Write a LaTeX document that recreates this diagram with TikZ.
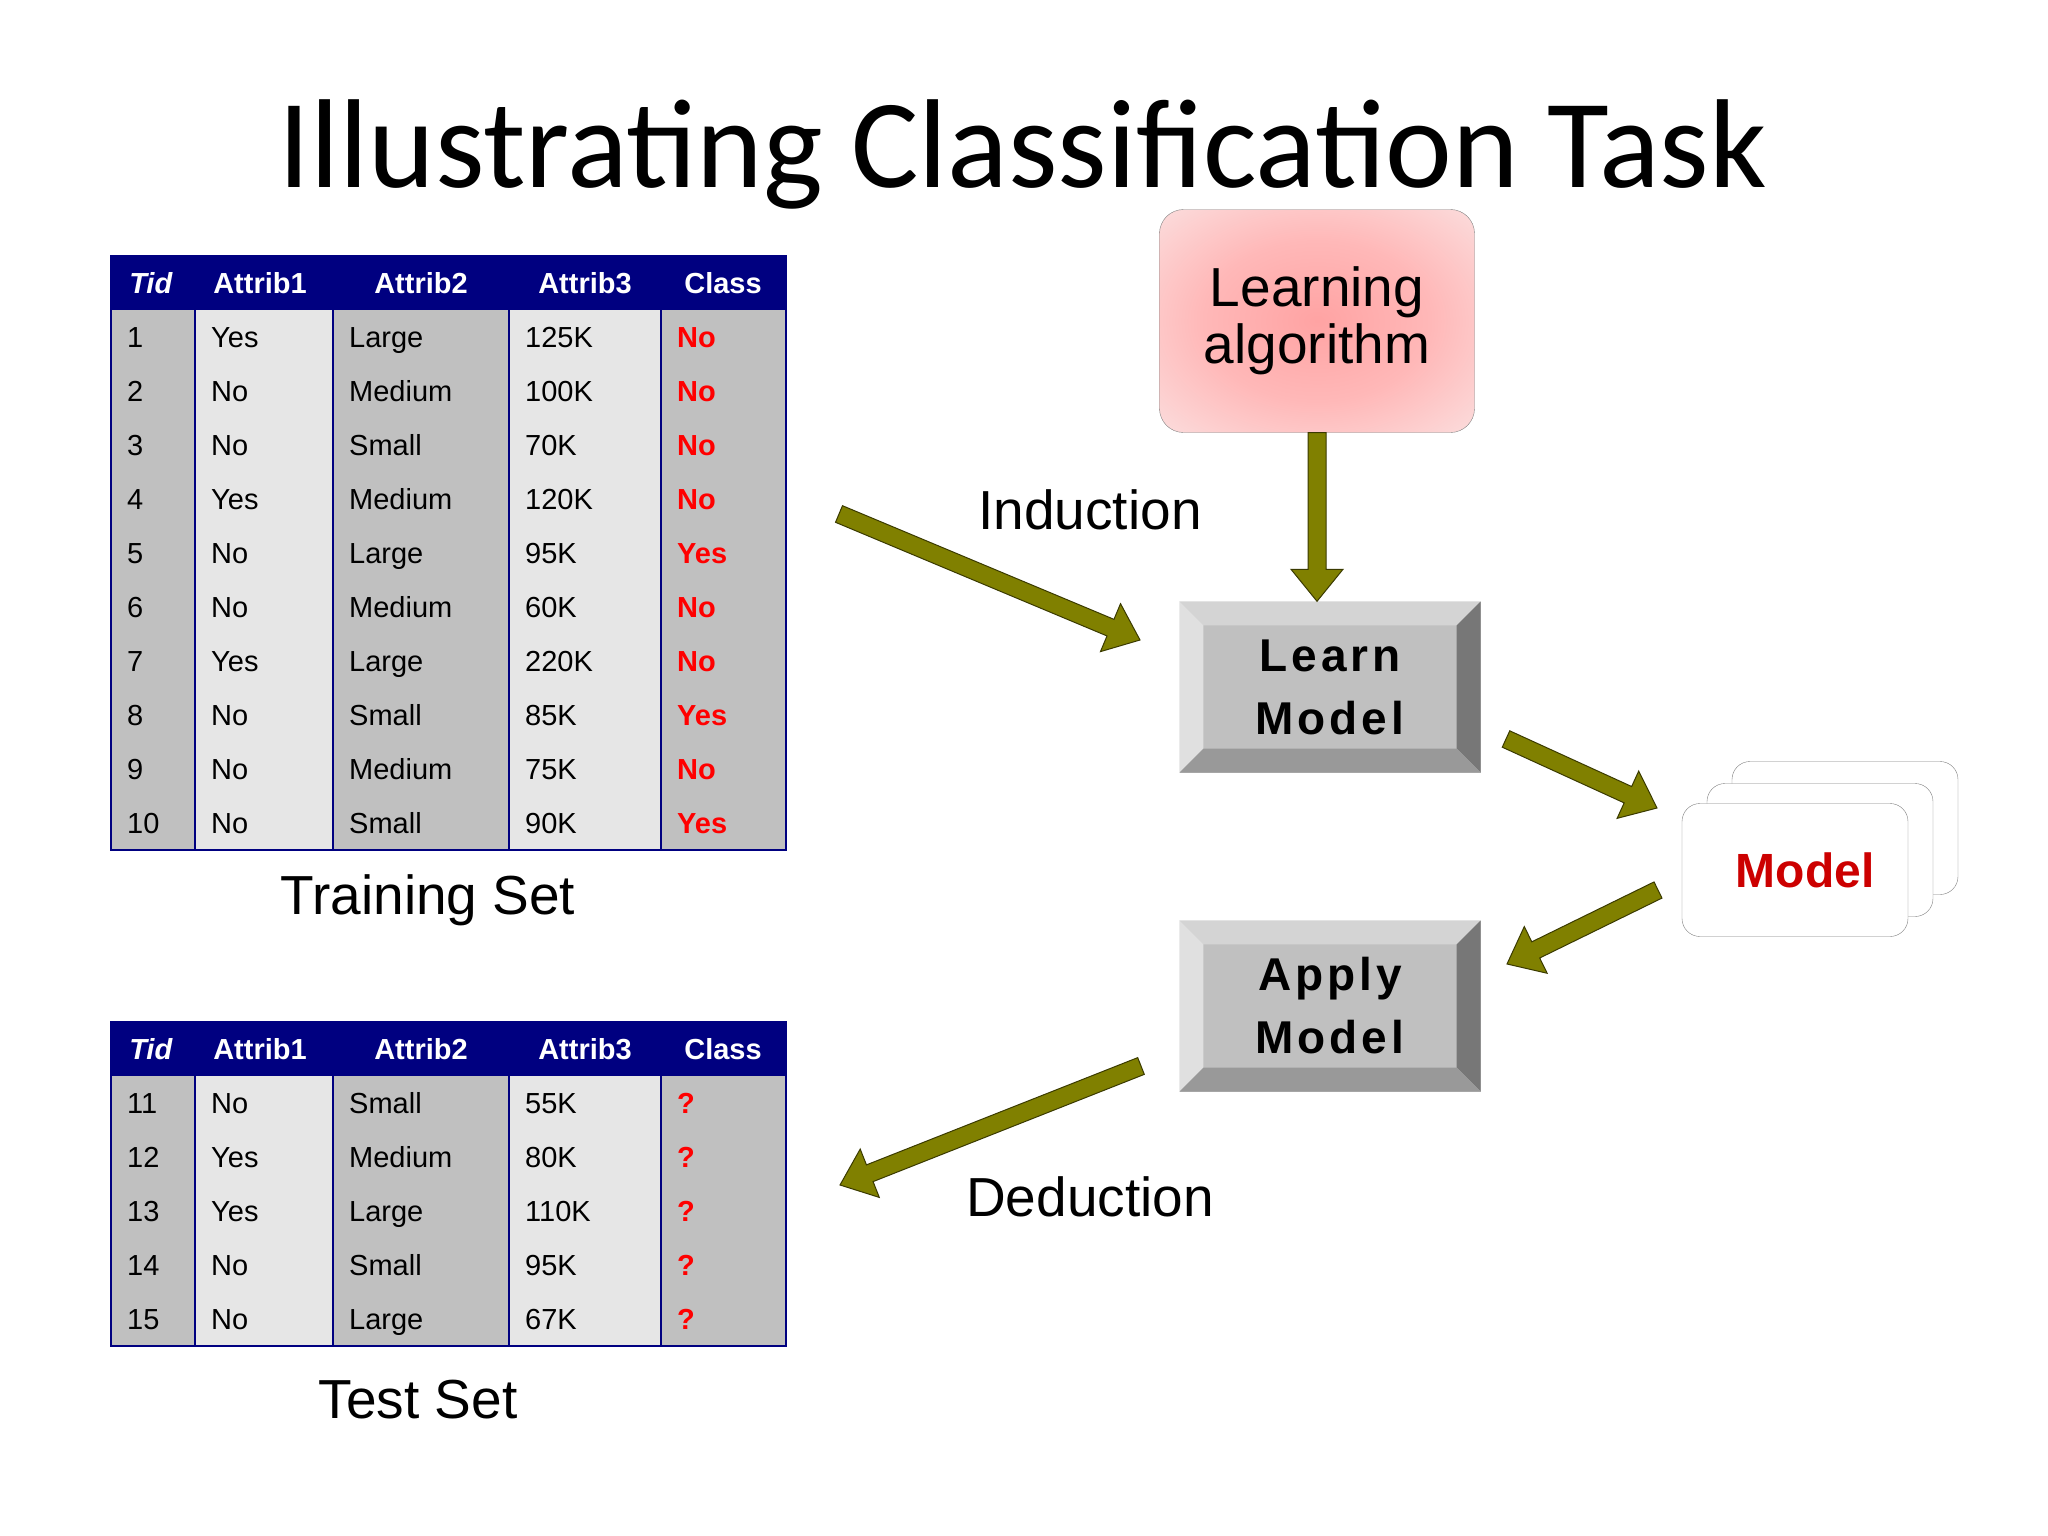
\documentclass[tikz,border=0pt]{standalone}
\usepackage{fontspec}
\setmainfont{Liberation Sans}
\newfontfamily\titlefont{Carlito}
\newfontfamily\keyfont[LetterSpace=8.5]{Liberation Sans}
\usetikzlibrary{calc}

\definecolor{tabnavy}{HTML}{000080}
\definecolor{coldark}{HTML}{C0C0C0}
\definecolor{collight}{HTML}{E6E6E6}
\definecolor{classred}{HTML}{FF0000}
\definecolor{modelred}{HTML}{CC0000}
\definecolor{olivefill}{HTML}{808000}
\definecolor{olivedraw}{HTML}{3A3A00}
\definecolor{pinkin}{HTML}{FFA3A3}
\definecolor{pinkmid}{HTML}{FFB8B8}
\definecolor{pinkout}{HTML}{FAEAEA}
\definecolor{keyface}{HTML}{C0C0C0}
\definecolor{keytop}{HTML}{D4D4D4}
\definecolor{keyleft}{HTML}{E0E0E0}
\definecolor{keyright}{HTML}{777777}
\definecolor{keybottom}{HTML}{999999}

\pgfdeclareradialshading{algoshade}{\pgfpoint{0bp}{0bp}}{color(0bp)=(pinkin); color(18bp)=(pinkmid); color(42bp)=(pinkout); color(72bp)=(pinkout)}

\tikzstyle{cell}=[inner sep=0pt, anchor=base west, font=\fontsize{29}{29}\selectfont]
\tikzstyle{classcell}=[cell, text=classred, font=\bfseries\fontsize{29}{29}\selectfont]
\tikzstyle{head}=[inner sep=0pt, anchor=base, text=white, font=\bfseries\fontsize{29}{29}\selectfont]
\tikzstyle{tabline}=[draw=tabnavy, line width=2.5]
\tikzstyle{caption}=[inner sep=0pt, anchor=base, font=\fontsize{55}{55}\selectfont]
\tikzstyle{algobox}=[draw=gray, rounded corners=24, shading=algoshade, minimum width=315, minimum height=223, align=center, font=\fontsize{55}{59}\selectfont]
\tikzstyle{keybox}=[fill=keyface, minimum width=301, minimum height=171, inner sep=0pt, align=center, font=\keyfont\bfseries\fontsize{46}{63}\selectfont]
\tikzstyle{card}=[draw=gray, fill=white, rounded corners=18, minimum width=226, minimum height=133]
\tikzstyle{olivearrow}=[fill=olivefill, draw=olivedraw, line width=1, line join=miter]

% block arrow from #1 to #2
\newcommand{\blockarrow}[2]{%
	\coordinate (neck) at ($(#2)!32pt!(#1)$);
	\draw[olivearrow] ($(#1)!9pt!90:(#2)$) -- ($(neck)!9pt!90:(#2)$) -- ($(neck)!26pt!90:(#2)$) -- (#2)
	-- ($(neck)!26pt!-90:(#2)$) -- ($(neck)!9pt!-90:(#2)$) -- ($(#1)!9pt!-90:(#2)$) -- cycle;}

\begin{document}
\begin{tikzpicture}[x=1pt, y=-1pt]
	\useasboundingbox (0,0) rectangle (2048,1536);
	%title
	\node[font=\titlefont\fontsize{126.5}{126.5}\selectfont, anchor=base] (title) at (1023,187) {Illustrating Classification Task};
	%table frames
	\foreach \tab/\dy/\n in {train/0/10, test/766/5}{
		\foreach \l/\r/\c in {111/195/coldark, 195/333/collight, 333/509/coldark, 509/661/collight, 661/786/coldark}
		\fill[\c] ({\l},{310+\dy}) rectangle ({\r},{310+\dy+54*\n});
		\fill[tabnavy] ({111},{256+\dy}) rectangle ({786},{310+\dy});
		\foreach \x in {195,333,509,661}
		\draw[tabline] ({\x},{310+\dy}) -- ({\x},{310+\dy+54*\n});
		\draw[tabline] ({111},{256+\dy}) rectangle ({786},{310+\dy+54*\n});
		\foreach \x/\h [count=\i] in {151/\textit{Tid}, 260/Attrib1, 421/Attrib2, 585/Attrib3, 723/Class}
		\node[head] (\tab-h\i) at ({\x},{293+\dy}) {\h};
	}
	%training rows
	\foreach \tid/\a/\b/\c/\cl [count=\r] in {
		1/Yes/Large/125K/No,
		2/No/Medium/100K/No,
		3/No/Small/70K/No,
		4/Yes/Medium/120K/No,
		5/No/Large/95K/Yes,
		6/No/Medium/60K/No,
		7/Yes/Large/220K/No,
		8/No/Small/85K/Yes,
		9/No/Medium/75K/No,
		10/No/Small/90K/Yes
	}{
		\node[cell] (train-\r-1) at ({127},{293+54*\r}) {\tid};
		\node[cell] (train-\r-2) at ({211},{293+54*\r}) {\a};
		\node[cell] (train-\r-3) at ({349},{293+54*\r}) {\b};
		\node[cell] (train-\r-4) at ({525},{293+54*\r}) {\c};
		\node[classcell] (train-\r-5) at ({677},{293+54*\r}) {\cl};
	}
	%test rows
	\foreach \tid/\a/\b/\c [count=\r] in {
		11/No/Small/55K,
		12/Yes/Medium/80K,
		13/Yes/Large/110K,
		14/No/Small/95K,
		15/No/Large/67K
	}{
		\node[cell] (test-\r-1) at ({127},{1059+54*\r}) {\tid};
		\node[cell] (test-\r-2) at ({211},{1059+54*\r}) {\a};
		\node[cell] (test-\r-3) at ({349},{1059+54*\r}) {\b};
		\node[cell] (test-\r-4) at ({525},{1059+54*\r}) {\c};
		\node[classcell] (test-\r-5) at ({677},{1059+54*\r}) {?};
	}
	%labels
	\node[caption] (trainlbl) at (428,914) {Training Set};
	\node[caption] (testlbl) at (418,1418) {Test Set};
	\node[caption] (induction) at (1090,529) {Induction};
	\node[caption] (deduction) at (1090,1216) {Deduction};
	%learning algorithm
	\node[algobox] (algo) at (1317,321) {Learning\\[-2pt]algorithm};
	%keys
	\node[keybox] (learn) at (1330,687) {Learn\\Model};
	\node[keybox] (apply) at (1330,1006) {Apply\\Model};
	\foreach \k in {learn,apply}{
		\fill[keytop] (\k.north west) -- (\k.north east) -- ([shift={(-24,24)}]\k.north east) -- ([shift={(24,24)}]\k.north west) -- cycle;
		\fill[keyleft] (\k.north west) -- ([shift={(24,24)}]\k.north west) -- ([shift={(24,-24)}]\k.south west) -- (\k.south west) -- cycle;
		\fill[keyright] (\k.north east) -- ([shift={(-24,24)}]\k.north east) -- ([shift={(-24,-24)}]\k.south east) -- (\k.south east) -- cycle;
		\fill[keybottom] (\k.south west) -- ([shift={(24,-24)}]\k.south west) -- ([shift={(-24,-24)}]\k.south east) -- (\k.south east) -- cycle;
	}
	%model cards
	\node[card] (card3) at (1845,828) {};
	\node[card] (card2) at (1820,850) {};
	\node[card, text=modelred, font=\bfseries\fontsize{48}{48}\selectfont] (model) at (1795,870) {\hspace*{20pt}Model};
	%arrows
	\coordinate (algo-tip) at (algo.south |- learn.north);
	\coordinate (ind-a) at (839,514);
	\coordinate (ind-b) at (1140,640);
	\coordinate (lm-a) at (1506,739);
	\coordinate (lm-b) at (1657,808);
	\coordinate (ma-a) at (1658,890);
	\coordinate (ma-b) at (1507,964);
	\coordinate (ded-a) at (1141,1066);
	\coordinate (ded-b) at (840,1185);
	\blockarrow{algo.south}{algo-tip}
	\blockarrow{ind-a}{ind-b}
	\blockarrow{lm-a}{lm-b}
	\blockarrow{ma-a}{ma-b}
	\blockarrow{ded-a}{ded-b}
\end{tikzpicture}
\end{document}
